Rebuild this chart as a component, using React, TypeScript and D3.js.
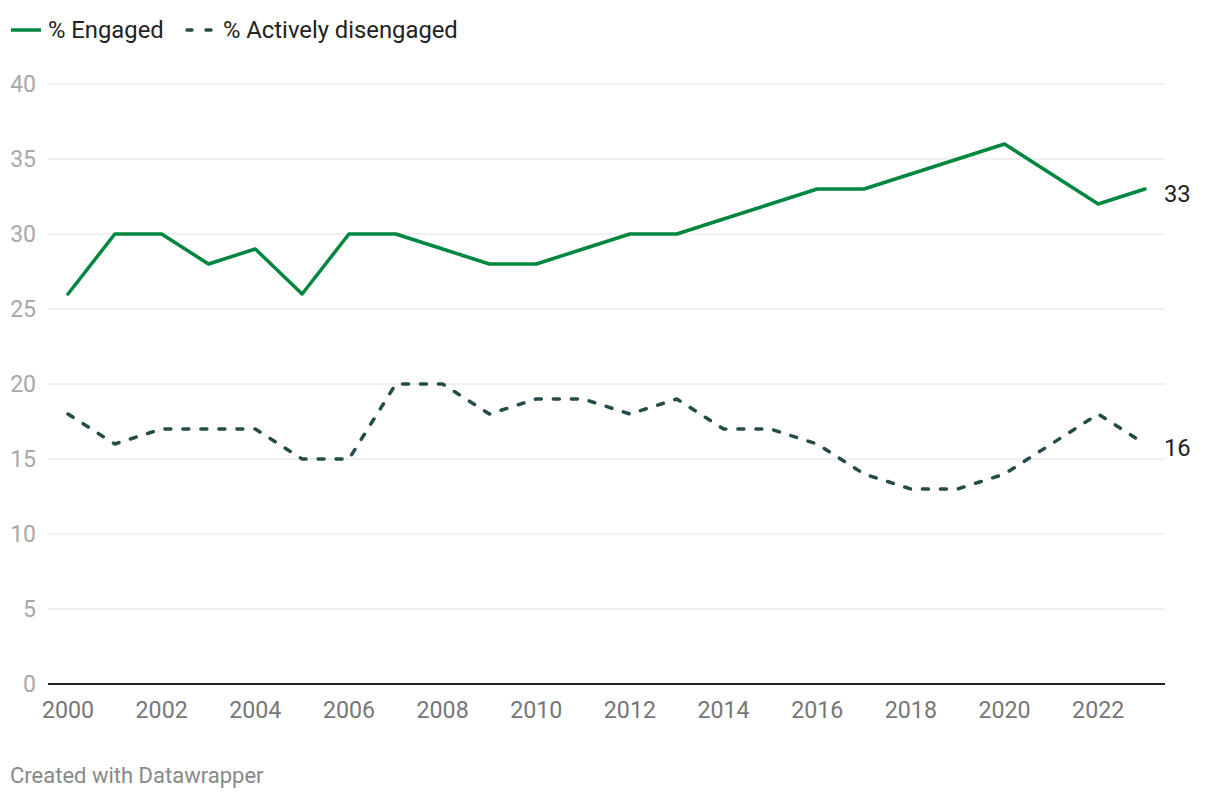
import React from "react";
import * as d3 from "d3";

const years = [2000,2001,2002,2003,2004,2005,2006,2007,2008,2009,2010,2011,2012,2013,2014,2015,2016,2017,2018,2019,2020,2021,2022,2023];
const engaged = [26,30,30,28,29,26,30,30,29,28,28,29,30,30,31,32,33,33,34,35,36,34,32,33];
const disengaged = [18,16,17,17,17,15,15,20,20,18,19,19,18,19,17,17,16,14,13,13,14,16,18,16];
const yTicks = [0,5,10,15,20,25,30,35,40];
const xTicks = [2000,2002,2004,2006,2008,2010,2012,2014,2016,2018,2020,2022];

const W = 1220, H = 800;
const FONT = "Roboto, 'Noto Sans', sans-serif";

export default function App() {
  const x = d3.scaleLinear().domain([2000, 2023]).range([68, 1145]);
  const y = d3.scaleLinear().domain([0, 40]).range([684, 84]);
  const line = d3.line<number>().x((_, i) => x(years[i])).y(d => y(d));
  const gx0 = 48, gx1 = 1165;
  return (
    <svg width={W} height={H} style={{ position: "absolute", left: 0, top: 0, background: "#fff" }} fontFamily={FONT}>
      {/* legend */}
      <line x1={11} x2={41} y1={30} y2={30} stroke="#00873f" strokeWidth={3.5} />
      <text x={48} y={37.5} fontSize={23.8} fill="#222">% Engaged</text>
      <line x1={187} x2={211} y1={30} y2={30} stroke="#234c4a" strokeWidth={3.5} strokeDasharray="5 14" strokeLinecap="round" />
      <text x={223} y={37.5} fontSize={23.8} fill="#222">% Actively disengaged</text>
      {/* grid */}
      {yTicks.map(t => (
        <g key={t}>
          {t !== 0 && <line x1={gx0} x2={gx1} y1={y(t)} y2={y(t)} stroke="#e2e2e2" strokeWidth={1} />}
          <text x={36} y={y(t) + 8} textAnchor="end" fontSize={23} fill="#a8a8a8">{t}</text>
        </g>
      ))}
      <line x1={gx0} x2={gx1} y1={y(0)} y2={y(0)} stroke="#222" strokeWidth={2} />
      {xTicks.map(t => (
        <text key={t} x={x(t)} y={718} textAnchor="middle" fontSize={23.2} fill="#777">{t}</text>
      ))}
      {/* lines */}
      <path d={line(disengaged) || ""} fill="none" stroke="#234c4a" strokeWidth={3.5} strokeDasharray="6 12" strokeLinecap="round" strokeLinejoin="round" />
      <path d={line(engaged) || ""} fill="none" stroke="#00873f" strokeWidth={3.5} strokeLinejoin="round" strokeLinecap="round" />
      <text x={1164} y={y(engaged[engaged.length - 1]) + 12.5} fontSize={23.8} fill="#222">{engaged[engaged.length - 1]}</text>
      <text x={1164} y={y(disengaged[disengaged.length - 1]) + 11.5} fontSize={23.8} fill="#222">{disengaged[disengaged.length - 1]}</text>
      <text x={10} y={783} fontSize={22} fill="#888">Created with Datawrapper</text>
    </svg>
  );
}
